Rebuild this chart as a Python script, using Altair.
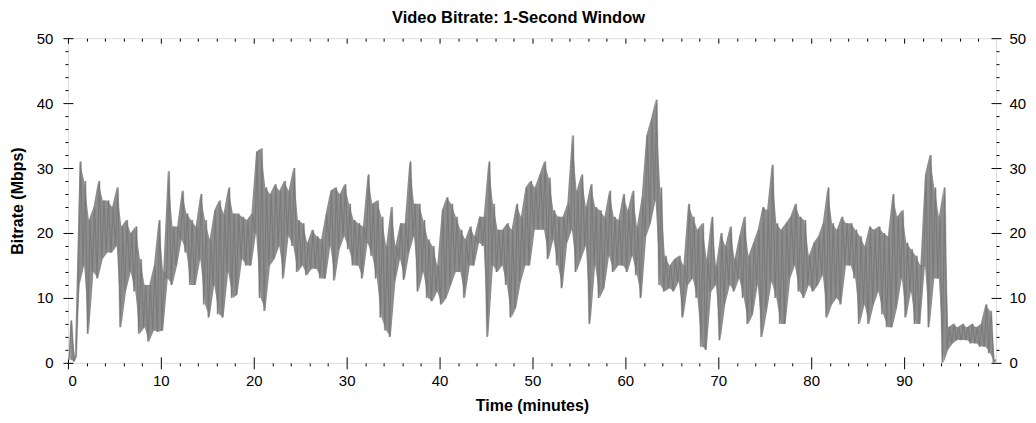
import altair as alt
import pandas as pd

# ---- data: per 0.5-minute bin, low and high bitrate (Mbps) ----
BIN = 0.5
X_MAX = 99.9
TITLE = "Video Bitrate: 1-Second Window"

lows = [
    # 0 - 10 min
    0.5, 0.2, 12, 15, 4.5, 14, 13, 16, 17, 17, 18, 5.5, 11, 14, 11, 4.5, 5.5, 3.3, 5, 4.8,
    # 10 - 20
    5, 13, 12, 15, 19, 17, 12, 12, 16, 9, 7, 12, 7.5, 7, 14, 10, 10.5, 16, 15, 15,
    # 20 - 30
    20, 10, 8, 15, 16, 18, 13, 19.5, 18, 14, 15, 13.5, 14.5, 14.5, 13, 13, 18, 12.7, 17.5, 19.5,
    # 30 - 40
    17.5, 15, 15, 13, 18.5, 16.5, 13, 7, 5, 4, 12.5, 16, 12.8, 17, 19.5, 11, 14, 10, 9.5, 11,
    # 40 - 50
    9, 10, 12, 14, 14, 10, 15, 15, 18.5, 18, 4, 15, 14, 15, 12, 7, 8.5, 12.5, 15, 15,
    # 50 - 60
    20.5, 20.5, 20.5, 16, 19, 15, 11.5, 18.5, 20.5, 14, 16, 18, 6, 15, 10, 11.5, 16.5, 14, 15, 15,
    # 60 - 70
    14, 16.5, 13.5, 10, 19.5, 21.5, 25, 12, 11, 11.5, 11, 12.5, 7, 12, 13, 10, 2.5, 2, 11, 12,
    # 70 - 80
    3.5, 9, 12, 11, 13, 10, 6, 7.5, 12, 4, 8, 12.5, 10, 6, 6, 13, 15, 11, 10, 12,
    # 80 - 90
    11, 12, 13.5, 7, 9, 10, 9, 15, 15, 13, 6, 9, 6, 9, 11, 7.5, 5.5, 5.5, 8.5, 13,
    # 90 - 100
    7, 11, 6, 6, 15, 5.5, 13, 13, 0, 2, 3, 3.5, 3.5, 3.5, 3, 3, 2.5, 2.5, 1.5, 0,
]

highs = [
    # 0 - 10 min
    6.5, 1.0, 31, 28, 22, 24, 28, 25, 25, 24, 27, 21, 22, 20, 21, 16, 12, 12, 15, 22,
    # 10 - 20
    14, 29.5, 21, 21, 26.5, 23, 22, 21, 26, 22, 19, 23.5, 25, 23, 27, 23, 23, 22.5, 22, 23,
    # 20 - 30
    32.5, 33, 27, 26, 27.5, 26.5, 28, 26.5, 30, 22, 21.5, 18.5, 20.5, 19.5, 19, 23, 26.5, 27, 26, 27.5,
    # 30 - 40
    24.5, 22, 21.5, 21, 29, 24.5, 25, 22.5, 18, 24, 18, 21.5, 21.5, 31, 24.5, 24.5, 22, 19, 18, 15,
    # 40 - 50
    23.5, 25.5, 24.5, 22.5, 20.5, 19, 21, 19.5, 22.5, 22.5, 31, 24.5, 20.5, 20.5, 21.5, 20.5, 24.5, 22.5, 27, 28,
    # 50 - 60
    27, 29, 31, 28.5, 23.5, 22.5, 22.5, 24.5, 35, 26.5, 29, 24, 27.5, 24, 23.5, 22.5, 26.5, 22.5, 22, 26,
    # 60 - 70
    23.5, 26.5, 21, 25.5, 35, 37.5, 40.5, 27, 16.5, 15, 16, 16.5, 15, 24.5, 22.5, 20.5, 21.5, 16, 22.5, 15,
    # 70 - 80
    20, 18, 21, 16, 19.5, 22.5, 16.5, 18.5, 20.5, 24, 23.5, 30.5, 21.5, 20.5, 21.5, 22.5, 24.5, 22.5, 22, 16.5,
    # 80 - 90
    18.5, 19.5, 21.5, 27, 21.5, 20.5, 22.5, 21.5, 21.5, 20.5, 19.5, 18, 21, 20.5, 21, 20, 19.5, 26, 22.5, 23.5,
    # 90 - 100
    18.5, 17.5, 16.5, 15, 29, 32, 27, 22.5, 27, 5.5, 6, 5.5, 6, 5.5, 6, 5.5, 6, 9, 8, 0.5,
]

x_major = [0, 10, 20, 30, 40, 50, 60, 70, 80, 90]
x_minor = [v for v in range(2, 100, 2) if v % 10 != 0]
y_major = [0, 10, 20, 30, 40, 50]
y_minor = [v for v in range(2, 50, 2) if v % 10 != 0]

rows = []
for i, (lo, hi) in enumerate(zip(lows, highs)):
    rows.append({"t": i * BIN + BIN * 0.25, "mbps": lo})
    rows.append({"t": i * BIN + BIN * 0.75, "mbps": hi})
df = pd.DataFrame(rows)

band = pd.DataFrame({
    "t": [i * BIN + BIN * 0.5 for i in range(len(lows))],
    "lo": lows,
    "hi": highs,
})

xscale = alt.Scale(domain=[0, X_MAX], nice=False, zero=False)
yscale = alt.Scale(domain=[0, 50], nice=False)

FONT = "Liberation Sans"


def tick_axis(orient, values, size, inward=False, **kw):
    params = dict(orient=orient, values=values, tickSize=size, labels=False,
                  domain=False, grid=False, title=None, tickColor="black")
    if inward:
        params["offset"] = -size
    params.update(kw)
    return alt.Axis(**params)


def layer(xaxis, yaxis, color="#808080", width=1.0, visible=False):
    mark = alt.Chart(df).mark_line(
        color=color, strokeWidth=width, opacity=1 if visible else 0, clip=True
    )
    xenc = alt.X("t:Q", scale=xscale, axis=xaxis)
    yenc = alt.Y("mbps:Q", scale=yscale, axis=yaxis)
    return mark.encode(x=xenc, y=yenc)


fill = alt.Chart(band).mark_area(color="#8d8d8d", opacity=1, clip=True).encode(
    x=alt.X("t:Q", scale=xscale, axis=None),
    y=alt.Y("lo:Q", scale=yscale, axis=None),
    y2=alt.Y2("hi:Q"),
)

halo = layer(None, None, color="#c8c8c8", width=2.2, visible=True)

main = layer(
    alt.Axis(orient="bottom", values=x_major, tickSize=6, labelPadding=5,
             labelFontSize=15, labelFont=FONT, labelColor="black",
             title="Time (minutes)", titleFont=FONT, titleFontSize=16,
             titleFontWeight="bold", titleColor="black", titlePadding=9,
             domain=False, grid=False, tickColor="black"),
    alt.Axis(orient="left", values=y_major, tickSize=5, labelPadding=10,
             labelFontSize=15, labelFont=FONT, labelColor="black",
             title="Bitrate (Mbps)", titleFont=FONT, titleFontSize=16,
             titleFontWeight="bold", titleColor="black", titlePadding=11,
             domain=False, grid=False, tickColor="black"),
    color="#7a7a7a", width=1.1, visible=True,
)

l2 = layer(tick_axis("bottom", x_minor, 3), tick_axis("left", y_minor, 3))
l3 = layer(tick_axis("bottom", x_major, 6, inward=True),
           tick_axis("left", y_major, 5, inward=True))
l4 = layer(tick_axis("top", x_major, 5, inward=True),
           alt.Axis(orient="right", values=y_major, tickSize=5, labelPadding=8,
                    labelFontSize=15, labelFont=FONT, labelColor="black",
                    title=None, domain=False, grid=False, tickColor="black"))
l5 = layer(tick_axis("top", x_minor, 3, inward=True), tick_axis("right", y_minor, 3))
l6 = layer(None, tick_axis("right", y_major, 5, inward=True))

title = alt.Chart(pd.DataFrame({"label": [TITLE]})).mark_text(
    font=FONT, fontSize=16.5, fontWeight="bold", color="black",
    align="center", baseline="alphabetic",
).encode(x=alt.value(451), y=alt.value(-15), text="label:N")

chart = (
    alt.layer(l2, l3, l4, l5, l6, halo, fill, main, title)
    .resolve_axis(x="independent", y="independent")
    .properties(
        width=929,
        height=325,
        autosize=alt.AutoSizeParams(type="none"),
        padding={"left": 60, "top": 30, "right": 32, "bottom": 52},
    )
    .configure_view(stroke="black", strokeWidth=1)
    .configure(background="white")
)

chart.save("out.html", embed_options={"renderer": "svg", "actions": False})
